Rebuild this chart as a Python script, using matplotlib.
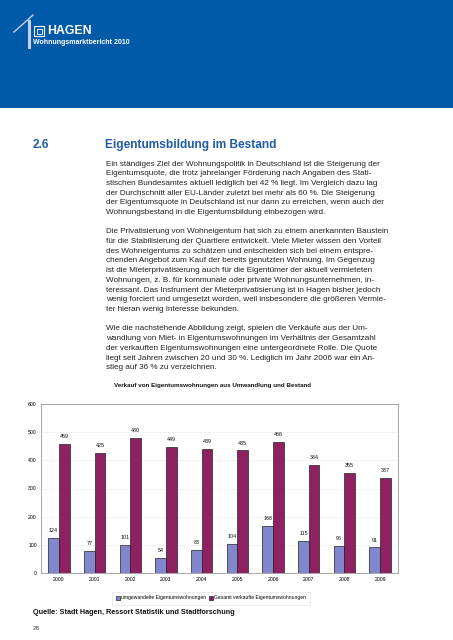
import numpy as np
import matplotlib
matplotlib.use("Agg")
import matplotlib.pyplot as plt
from matplotlib.patches import Rectangle
from matplotlib.lines import Line2D

# chart data
years = ["2000", "2001", "2002", "2003", "2004", "2005", "2006", "2007", "2008", "2009"]
umgewandelt = [124, 77, 101, 54, 83, 104, 168, 115, 96, 91]
gesamt = [459, 425, 480, 449, 439, 435, 466, 384, 355, 337]
series_names = ["umgewandelte Eigentumswohnungen", "Gesamt verkaufte Eigentumswohnungen"]
yticks = [0, 100, 200, 300, 400, 500, 600]

chart_title = "Verkauf von Eigentumswohnungen aus Umwandlung und Bestand"
source = "Quelle: Stadt Hagen, Ressort Statistik und Stadtforschung"

body = [
    "Ein ständiges Ziel der Wohnungspolitik in Deutschland ist die Steigerung der",
    "Eigentumsquote, die trotz jahrelanger Förderung nach Angaben des Stati-",
    "stischen Bundesamtes aktuell lediglich bei 42 % liegt. Im Vergleich dazu lag",
    "der Durchschnitt aller EU-Länder zuletzt bei mehr als 60 %. Die Steigerung",
    "der Eigentumsquote in Deutschland ist nur dann zu erreichen, wenn auch der",
    "Wohnungsbestand in die Eigentumsbildung einbezogen wird.",
    "",
    "Die Privatisierung von Wohneigentum hat sich zu einem anerkannten Baustein",
    "für die Stabilisierung der Quartiere entwickelt. Viele Mieter wissen den Vorteil",
    "des Wohneigentums zu schätzen und entscheiden sich bei einem entspre-",
    "chenden Angebot zum Kauf der bereits genutzten Wohnung. Im Gegenzug",
    "ist die Mieterprivatisierung auch für die Eigentümer der aktuell vermieteten",
    "Wohnungen, z. B. für kommunale oder private Wohnungsunternehmen, in-",
    "teressant. Das Instrument der Mieterprivatisierung ist in Hagen bisher jedoch",
    "wenig forciert und umgesetzt worden, weil insbesondere die größeren Vermie-",
    "ter hieran wenig Interesse bekunden.",
    "",
    "Wie die nachstehende Abbildung zeigt, spielen die Verkäufe aus der Um-",
    "wandlung von Miet- in Eigentumswohnungen im Verhältnis der Gesamtzahl",
    "der verkauften Eigentumswohnungen eine untergeordnete Rolle. Die Quote",
    "liegt seit Jahren zwischen 20 und 30 %. Lediglich im Jahr 2006 war ein An-",
    "stieg auf 36 % zu verzeichnen.",
]

W, H = 453, 640
plt.rcParams['font.family'] = ['Liberation Sans', 'DejaVu Sans']

fig = plt.figure(figsize=(W / 100, H / 100), dpi=100)


def fx(px):
    return px / W


def fy(py):
    return 1 - py / H


# header band
fig.patches.append(Rectangle((0, fy(108)), 1, 108 / H, transform=fig.transFigure,
                             facecolor="#005aa8", edgecolor="none", zorder=0))
logo_col = "#c9cdf2"
fig.add_artist(Line2D([fx(14), fx(33)], [fy(32), fy(15)], transform=fig.transFigure,
                      color=logo_col, lw=1.0))
fig.add_artist(Line2D([fx(29), fx(29)], [fy(21), fy(47)], transform=fig.transFigure,
                      color=logo_col, lw=2.2))
fig.patches.append(Rectangle((fx(34), fy(36)), 10 / W, 10 / H, transform=fig.transFigure,
                             facecolor="none", edgecolor="white", lw=0.8))
fig.patches.append(Rectangle((fx(36.5), fy(33.5)), 5 / W, 5 / H, transform=fig.transFigure,
                             facecolor="none", edgecolor="white", lw=0.6))
fig.text(fx(47), fy(31), "HAGEN", color="white", fontsize=8.8, fontweight="bold",
         va="center", ha="left")
fig.text(fx(33), fy(43), "Wohnungsmarktbericht 2010", color="white", fontsize=5.0,
         fontweight="bold", va="center", ha="left")

# section heading
head_col = "#1f5ca8"
fig.text(fx(33), fy(145), "2.6", color=head_col, fontsize=8.6, fontweight="bold",
         va="center", ha="left")
fig.text(fx(105), fy(145), "Eigentumsbildung im Bestand", color=head_col, fontsize=8.6,
         fontweight="bold", va="center", ha="left")

# body text
y0 = 164
step = 9.7
for i, line in enumerate(body):
    if line:
        fig.text(fx(106), fy(y0 + i * step), line, color="#222222", fontsize=5.85,
                 va="center", ha="left")

fig.text(fx(114), fy(386), chart_title, color="#111111", fontsize=4.5,
         fontweight="bold", va="center", ha="left")

# chart
ax = fig.add_axes([fx(41), fy(573), 357 / W, 169 / H])
x = np.arange(len(years))
bw = 0.3
b1 = ax.bar(x - bw / 2, umgewandelt, bw, color="#8087cc", edgecolor="#222222", lw=0.5,
            label=series_names[0], zorder=3)
b2 = ax.bar(x + bw / 2, gesamt, bw, color="#8f2163", edgecolor="#222222", lw=0.5,
            label=series_names[1], zorder=3)
for bars, vals in [(b1, umgewandelt), (b2, gesamt)]:
    for r, v in zip(bars, vals):
        ax.annotate(str(v), (r.get_x() + r.get_width() / 2, v), xytext=(0, 3.5),
                    textcoords="offset points", ha="center", va="bottom",
                    fontsize=3.9, color="#111111")

ax.set_xlim(-0.5, len(years) - 0.5)
ax.set_ylim(0, 600)
ax.set_yticks(yticks)
ax.set_yticklabels([str(t) for t in yticks], fontsize=3.7)
ax.set_xticks(x)
ax.set_xticklabels(years, fontsize=3.7)
ax.tick_params(length=0, pad=3)
ax.grid(axis="y", color="#eeeeee", lw=0.5, zorder=0)
for s in ax.spines.values():
    s.set_color("#999999")
    s.set_linewidth(0.6)

leg = fig.legend(handles=[b1, b2], loc="center", bbox_to_anchor=(fx(211), fy(598)),
                 ncol=2, fontsize=3.6, frameon=True, fancybox=False,
                 handlelength=0.7, handleheight=0.7, handletextpad=0.2,
                 columnspacing=0.6, borderpad=0.8)
leg.get_frame().set_edgecolor("#dddddd")
leg.get_frame().set_linewidth(0.5)

fig.text(fx(33), fy(612), source, color="#111111", fontsize=5.2, fontweight="bold",
         va="center", ha="left")
fig.text(fx(33), fy(628), "28", color="#555555", fontsize=4.6, va="center", ha="left")

fig.savefig("out.png", dpi=100)
